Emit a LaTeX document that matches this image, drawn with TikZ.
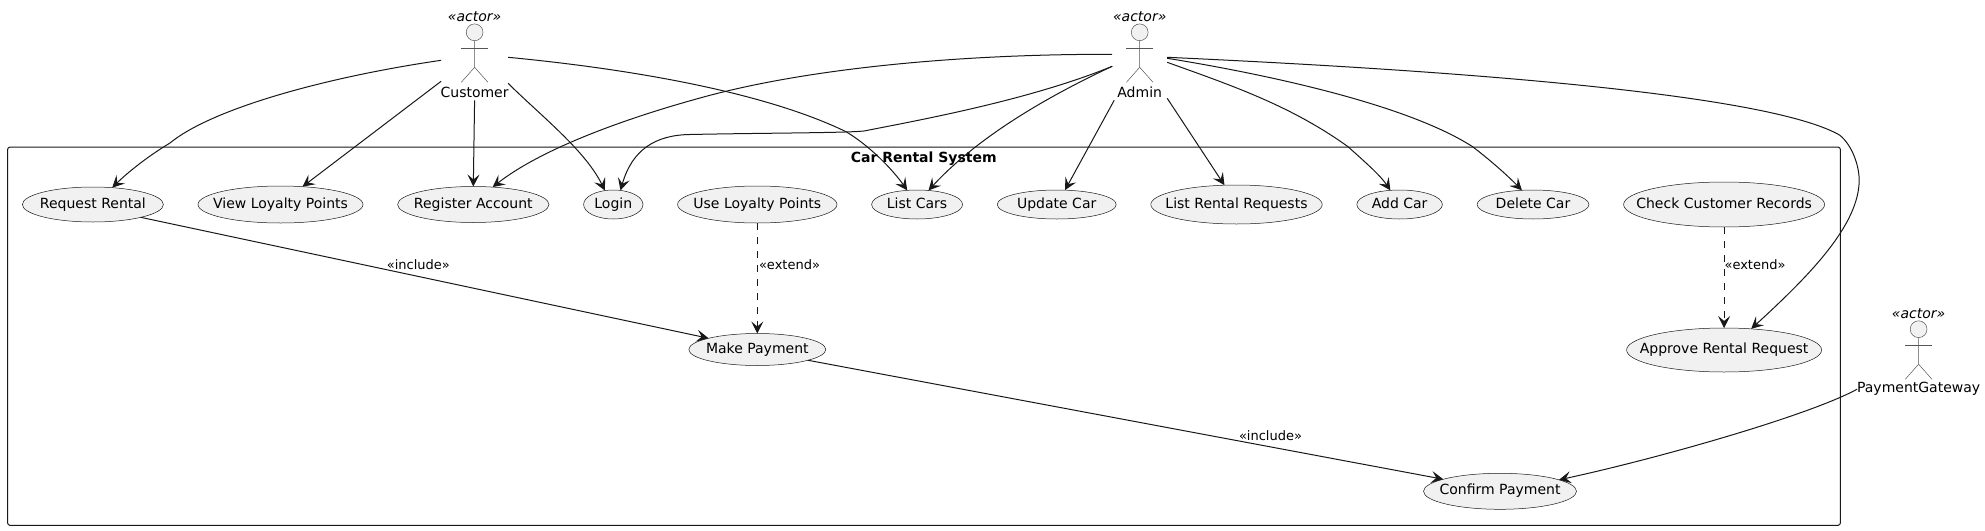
\documentclass[tikz,border=0pt]{standalone}
\usepackage{fontspec}
\setmainfont{DejaVu Sans}
\usepackage{xcolor}
\usepackage{tikz}
\usetikzlibrary{shapes.geometric, arrows.meta, positioning}
\definecolor{umlline}{HTML}{181818}
\definecolor{umlfill}{HTML}{F1F1F1}
\definecolor{umlthin}{HTML}{555555}
\tikzstyle{usecase} = [ellipse, draw=umlline, fill=umlfill, line width=0.5pt, inner sep=-20pt, outer sep=0pt,
                       text height=10pt, text depth=3pt, font=\fontsize{14}{16}\selectfont]
\tikzstyle{boundary} = [rectangle, rounded corners=2.5pt, draw=umlline, line width=1pt, minimum width=1832.8pt, minimum height=378.3pt]
\tikzstyle{actorbox} = [rectangle, minimum height=92pt, inner sep=0pt, outer sep=0pt]
\tikzstyle{actorhead} = [circle, draw=umlthin, fill=umlfill, line width=0.5pt, minimum size=16.8pt, inner sep=0pt]
\tikzstyle{actorline} = [draw=umlthin, line width=0.5pt]
\tikzstyle{actorname} = [inner sep=0pt, font=\fontsize{14}{16}\selectfont]
\tikzstyle{actortag} = [inner sep=0pt, font=\fontsize{14}{16}\selectfont\itshape]
\tikzstyle{edgelabel} = [inner sep=0pt, font=\fontsize{13}{15}\selectfont]
\tikzstyle{systemname} = [inner sep=0pt, font=\fontsize{14}{16}\selectfont\bfseries]
\tikzstyle{arrow} = [draw=umlline, line width=1pt, ->, >={Stealth[length=12pt, width=12pt, inset=5pt]}]
\tikzstyle{dasharrow} = [arrow, dash pattern=on 7pt off 7pt]

% name, x, y of head, box width, label
\newcommand{\umlactor}[5]{
\node (#1) [actorbox, minimum width=#4] at (#2,#3+22) {};
\node (#1head) [actorhead] at (#2,#3) {};
\node (#1tag) [actortag] at (#2,#3-16) {«actor»};
\node (#1name) [actorname] at (#2,#3+59.7) {#5};
\draw [actorline] (#1head.south) -- (#2,#3+35) -- ++(-13.3,15);
\draw [actorline] (#2,#3+35) -- ++(13.3,15);
\draw [actorline] (#2-13.3,#3+16) -- (#2+13.3,#3+16);
}

\begin{document}
\begin{tikzpicture}[x=1pt, y=-1pt, node distance=34.6pt]
\useasboundingbox (0,0) rectangle (1985,530);

\node (system) [boundary] at (924,336.2) {};
\node (systemtitle) [systemname] at (923.7,158.8) {Car Rental System};

\node (request) [usecase, minimum width=141pt, minimum height=35pt] at (92.9,204.5) {Request Rental};
\node (viewpoints) [usecase, minimum width=165pt, minimum height=37pt, right=of request] {View Loyalty Points};
\node (register) [usecase, minimum width=151.4pt, minimum height=36pt, right=of viewpoints] {Register Account};
\node (login) [usecase, minimum width=59.4pt, minimum height=29pt, right=of register] {Login};
\node (usepoints) [usecase, minimum width=159.4pt, minimum height=37pt, right=of login] {Use Loyalty Points};
\node (listcars) [usecase, minimum width=91pt, minimum height=29pt, right=of usepoints] {List Cars};
\node (updatecar) [usecase, minimum width=119pt, minimum height=29pt, right=of listcars] {Update Car};
\node (listrequests) [usecase, minimum width=171.4pt, minimum height=39pt, right=of updatecar] {List Rental Requests};
\node (addcar) [usecase, minimum width=85.6pt, minimum height=29pt, right=of listrequests] {Add Car};
\node (deletecar) [usecase, minimum width=112pt, minimum height=29pt, right=of addcar] {Delete Car};
\node (checkrecords) [usecase, minimum width=201pt, minimum height=45pt, right=of deletecar] {Check Customer Records};
\node (payment) [usecase, minimum width=137pt, minimum height=32pt, below=110.5pt of usepoints] {Make Payment};
\node (approve) [usecase, minimum width=195pt, minimum height=44pt, below=101pt of checkrecords] {Approve Rental Request};
\node (confirm) [usecase, minimum width=153pt, minimum height=36pt] at (1500,491.3) {Confirm Payment};

\umlactor{customer}{474.6}{32.3}{67pt}{Customer}
\umlactor{admin}{1139.7}{32.3}{55pt}{Admin}
\umlactor{gateway}{1918.6}{329.2}{123pt}{PaymentGateway}

\draw [arrow] ([yshift=-6pt]customer.west) .. controls (320,78) and (210,110) .. (170,143) .. controls (145,158) and (125,175) .. (request.41);
\draw [arrow] ([yshift=-27pt]customer.west) -- (viewpoints.39);
\draw [arrow] (customer.south) -- (register.north);
\draw [arrow] ([yshift=-29pt]customer.east) .. controls (540,115) and (585,150) .. (login.121);
\draw [arrow] ([yshift=-3pt]customer.east) .. controls (620,68) and (760,90) .. (846,131.7) .. controls (870,146) and (893,170) .. (listcars.125);

\draw [arrow] (admin.west) .. controls (950,54) and (800,70) .. (700,98) .. controls (620,120) and (540,150) .. (register.42);
\draw [arrow] ([yshift=-12pt]admin.west) .. controls (1030,100) and (920,120) .. (864,131) .. controls (845,133) and (760,133) .. (690,134.5) .. controls (655,135) and (632,150) .. (login.63);
\draw [arrow] ([yshift=-12pt]admin.west) .. controls (1040,100) and (975,140) .. (listcars.51);
\draw [arrow] ([xshift=2pt]admin.south west) -- (updatecar.60);
\draw [arrow] ([yshift=2pt]admin.south east) -- (listrequests.122);
\draw [arrow] ([yshift=-8pt]admin.east) .. controls (1230,85) and (1290,105) .. (1348,146.7) .. controls (1365,162) and (1380,175) .. (addcar.123);
\draw [arrow] ([yshift=-4pt]admin.east) .. controls (1240,70) and (1400,100) .. (1472.6,146.7) .. controls (1490,160) and (1507,175) .. (deletecar.128);
\draw [arrow] ([yshift=-3pt]admin.east) .. controls (1400,68) and (1760,90) .. (1839.5,135) .. controls (1852,145) and (1859,165) .. (1859.2,180) .. controls (1859,225) and (1810,275) .. (approve.38.5);

\draw [arrow] ([yshift=-38pt]gateway.west) .. controls (1810,415) and (1660,458) .. (confirm.11.7);

\draw [arrow] (request.-15) -- (payment.167.8);
\draw [arrow] (payment.-12) -- (confirm.168.5);
\draw [dasharrow] (usepoints.south) -- (payment.north);
\draw [dasharrow] (checkrecords.south) -- (approve.north);

\node (includeone) [edgelabel] at (418.3,265) {«include»};
\node (includetwo) [edgelabel] at (1270.5,435.7) {«include»};
\node (extendone) [edgelabel] at (789.5,265) {«extend»};
\node (extendtwo) [edgelabel] at (1755,265) {«extend»};

\end{tikzpicture}
\end{document}
